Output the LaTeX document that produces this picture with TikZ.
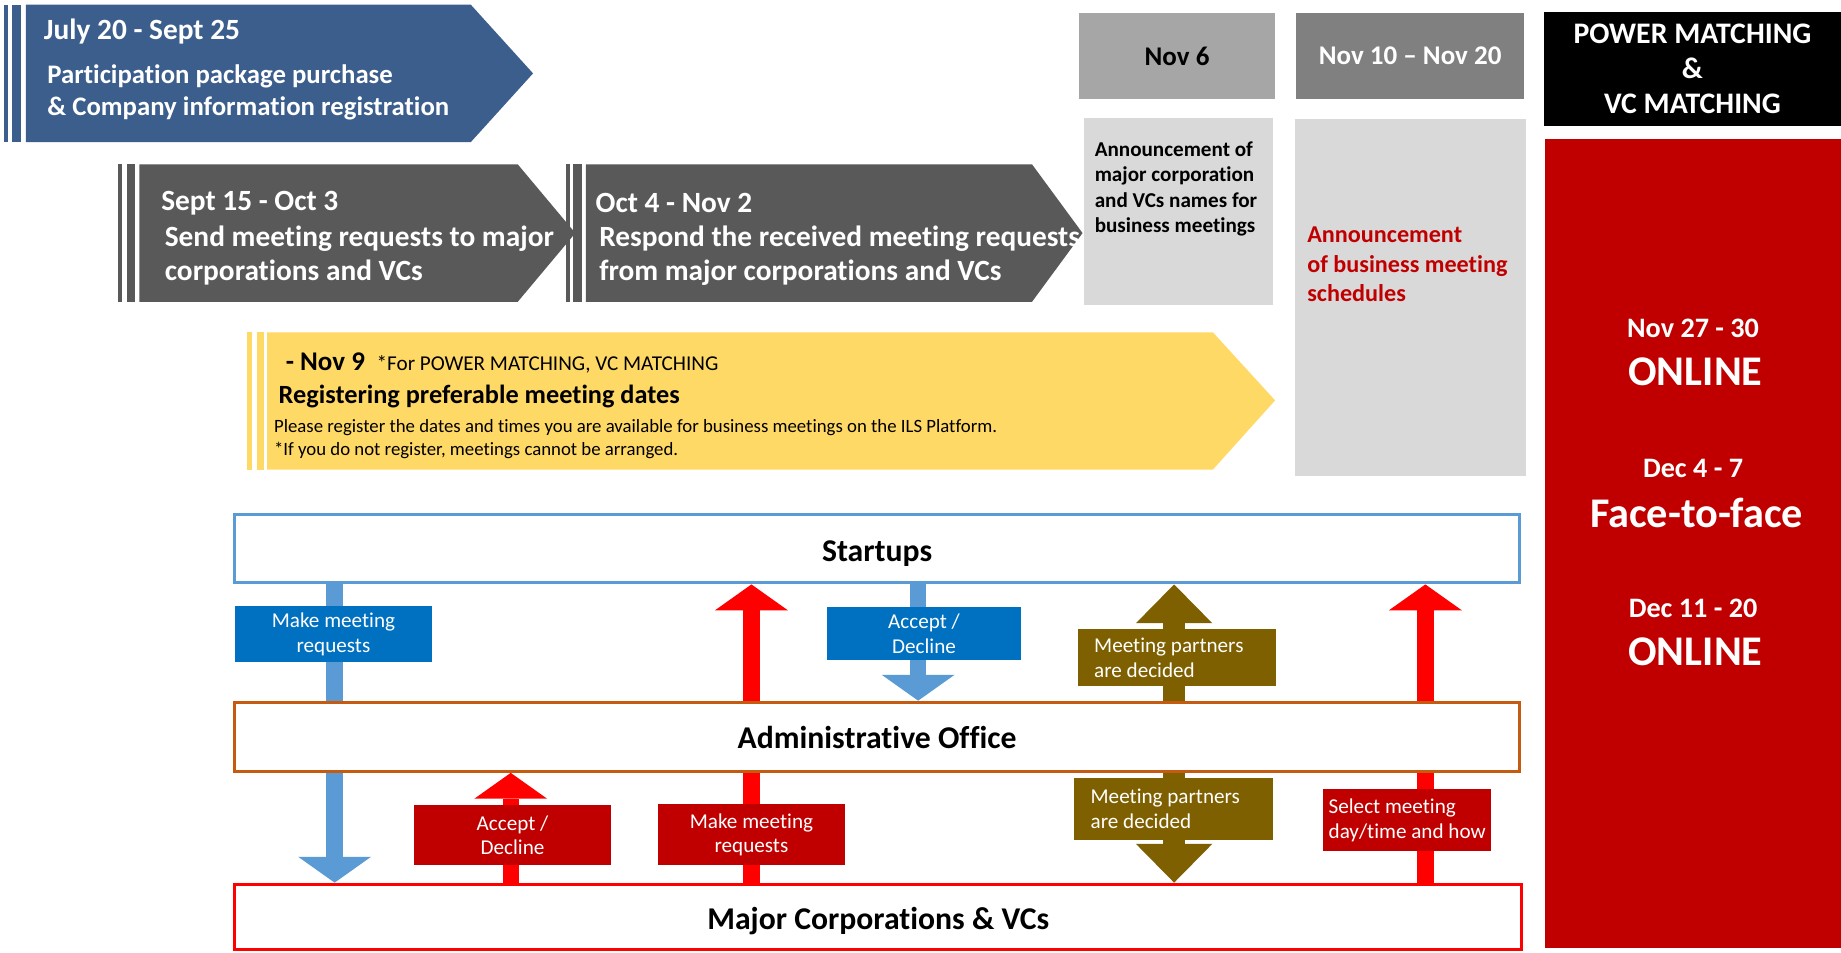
\documentclass[tikz,border=0pt]{standalone}
\usepackage{fontspec}
\setmainfont{Carlito}[Ligatures=NoCommon]
\usetikzlibrary{arrows.meta,positioning}

\definecolor{tlblue}{RGB}{59,94,140}
\definecolor{tlgrey}{RGB}{89,89,89}
\definecolor{tlyellow}{RGB}{255,217,102}
\definecolor{novlight}{RGB}{166,166,166}
\definecolor{novdark}{RGB}{128,128,128}
\definecolor{annbg}{RGB}{217,217,217}
\definecolor{darkred}{RGB}{192,0,0}
\definecolor{stblue}{RGB}{91,155,213}
\definecolor{admorange}{RGB}{197,90,17}
\definecolor{tagblue}{RGB}{0,112,192}
\definecolor{tagbrown}{RGB}{127,96,0}

\tikzset{
  party/.style={draw, line width=1.25pt, fill=white, inner sep=0pt, minimum width=547pt,
    text height=10.4pt, text depth=0pt, font=\bfseries\fontsize{13.5}{16}\selectfont},
  tag/.style={inner sep=0pt, text=white, align=center, font=\fontsize{9}{10.5}\selectfont},
  tagleft/.style={tag, align=left},
  flow/.style={line width=7pt, -{Triangle[length=11pt,width=31pt,line width=0pt]}},
  bigflow/.style={line width=9.5pt, -{Triangle[length=16.5pt,width=32.5pt,line width=0pt]}},
  shaft/.style={line width=7pt},
  when/.style={anchor=west, inner sep=0pt, text=white, font=\bfseries\fontsize{12.5}{14}\selectfont},
  what/.style={anchor=west, inner sep=0pt, text=white, align=left},
  datebox/.style={inner sep=0pt, minimum height=36.3pt, font=\bfseries\fontsize{11.5}{14}\selectfont},
  paneltext/.style={inner sep=0pt, text=white, font=\bfseries\fontsize{12}{14}\selectfont},
  panelbig/.style={inner sep=0pt, text=white, font=\bfseries\fontsize{18}{20}\selectfont}
}

\begin{document}
\begin{tikzpicture}[x=0.5pt, y=-0.5pt]
    \useasboundingbox (0,0) rectangle (1568,811);
    \fill[white] (0,0) rectangle (1568,811);

    % timeline arrows
    \fill[tlblue] (3.5,4) rectangle (7,121);
    \fill[tlblue] (10.5,4) rectangle (18,121);
    \fill[tlblue] (22,4) -- (401,4) -- (454,62.5) -- (401,121) -- (22,121) -- cycle;
    \node[when] (blueT) at (37,27) {July 20 - Sept 25};
    \node[what, font=\bfseries\fontsize{11.4}{13.5}\selectfont] (blueB) at (40,78.5)
        {Participation package purchase\\\& Company information registration};

    \fill[tlgrey] (481.7,140) rectangle (485.5,257);
    \fill[tlgrey] (488.2,140) rectangle (495.3,257);
    \fill[tlgrey] (499,140) -- (879,140) -- (922,198.5) -- (879,257) -- (499,257) -- cycle;
    \fill[tlgrey] (100.8,140) rectangle (104.2,257);
    \fill[tlgrey] (107.9,140) rectangle (115,257);
    \fill[tlgrey] (118.6,140) -- (441,140) -- (490,198.5) -- (441,257) -- (118.6,257) -- cycle;
    \node[when] (sendT) at (137,173) {Sept 15 - Oct 3};
    \node[what, font=\bfseries\fontsize{12.5}{14.5}\selectfont] (sendB) at (140,218)
        {Send meeting requests to major\\corporations and VCs};
    \node[when] (respT) at (507,173) {Oct 4 - Nov 2};
    \node[what, font=\bfseries\fontsize{12.5}{14.5}\selectfont] (respB) at (510,218)
        {Respond the received meeting requests\\from major corporations and VCs};

    \fill[tlyellow] (210,283) rectangle (215,400);
    \fill[tlyellow] (219,283) rectangle (225,400);
    \fill[tlyellow] (227.6,283) -- (1033,283) -- (1086,341) -- (1033,400) -- (227.6,400) -- cycle;
    \node[anchor=west, inner sep=0pt] (prefT) at (243,309.5)
        {\bfseries\fontsize{11.5}{14}\selectfont - Nov 9\hspace{5pt}\mdseries\fontsize{9}{11}\selectfont *For POWER MATCHING, VC MATCHING};
    \node[anchor=west, inner sep=0pt, font=\bfseries\fontsize{11.2}{13}\selectfont] (prefB) at (237,338)
        {Registering preferable meeting dates};
    \node[anchor=west, inner sep=0pt, align=left, font=\fontsize{8}{10}\selectfont] (prefN) at (233,374)
        {Please register the dates and times you are available for business meetings on the ILS Platform.\\*If you do not register, meetings cannot be arranged.};

    % announcement columns
    \node[datebox, fill=novlight, minimum width=83.5pt] (nov6) at (1002.5,47.7) {Nov 6};
    \node[datebox, fill=novdark, minimum width=97pt, text=white] (nov10) at (1201,47.7) {Nov 10 -- Nov 20};
    \node[fill=black, text=white, inner sep=0pt, minimum width=126.5pt, minimum height=48.4pt, align=center,
        font=\bfseries\fontsize{12.7}{15}\selectfont] (match) at (1441.5,58.6) {POWER MATCHING\\\&\\VC MATCHING};
    \node[fill=annbg, inner sep=0pt, minimum width=80.5pt, minimum height=79.5pt] (annA) at (1003.5,180) {};
    \node[anchor=north west, inner sep=0pt, align=left, font=\bfseries\fontsize{9}{10.9}\selectfont] (annAT) at (932,120)
        {Announcement of\\major corporation\\and VCs names for\\business meetings};
    \node[fill=annbg, inner sep=0pt, minimum width=98.5pt, minimum height=151.8pt] (annB) at (1201.5,253.2) {};
    \node[anchor=north west, inner sep=0pt, align=left, text=darkred, font=\bfseries\fontsize{10.3}{12.6}\selectfont] (annBT) at (1113,193)
        {Announcement\\of business meeting\\schedules};

    % event panel
    \node[fill=darkred, inner sep=0pt, minimum width=126pt, minimum height=344.5pt] (panel) at (1442,462.5) {};
    \node[paneltext] (onA) at (1442,279.5) {Nov 27 - 30};
    \node[panelbig] (onAT) at (1444,316.6) {ONLINE};
    \node[paneltext] (f2f) at (1442,399) {Dec 4 - 7};
    \node[panelbig] (f2fT) at (1445,437) {Face-to-face};
    \node[paneltext] (onB) at (1442,518) {Dec 11 - 20};
    \node[panelbig] (onBT) at (1444,555) {ONLINE};

    % parties
    \node[party, draw=stblue, minimum height=29pt] (st) at (747,467.5) {Startups};
    \node[party, draw=admorange, minimum height=29.5pt] (adm) at (747,627.5) {Administrative Office};
    \node[party, draw=red, minimum width=548pt, minimum height=28pt] (maj) at (748,781) {Major Corporations \& VCs};

    \coordinate (c1) at (285,0);
    \coordinate (c2) at (435,0);
    \coordinate (c3) at (640,0);
    \coordinate (c4) at (782,0);
    \coordinate (c5) at (1000,0);
    \coordinate (c6) at (1214,0);

    % flows
    \draw[shaft, stblue] (st.south -| c1) -- (adm.north -| c1);
    \draw[flow, stblue] (adm.south -| c1) -- (maj.north -| c1);
    \draw[flow, red] (maj.north -| c2) -- (adm.south -| c2);
    \draw[shaft, red] (maj.north -| c3) -- (adm.south -| c3);
    \draw[flow, red] (adm.north -| c3) -- (st.south -| c3);
    \draw[flow, stblue] (st.south -| c4) -- (adm.north -| c4);
    \draw[bigflow, tagbrown] (adm.north -| c5) -- (st.south -| c5);
    \draw[bigflow, tagbrown] (adm.south -| c5) -- (maj.north -| c5);
    \draw[shaft, red] (maj.north -| c6) -- (adm.south -| c6);
    \draw[flow, red] (adm.north -| c6) -- (st.south -| c6);

    % flow labels
    \node[tag, fill=tagblue, minimum width=84pt, minimum height=23.5pt] (reqS) at (284,540) {Make meeting\\requests};
    \node[tag, fill=tagblue, minimum width=83pt, minimum height=22.5pt] (ansS) at (787,539.5) {Accept /\\Decline};
    \node[tagleft, fill=tagbrown, minimum width=84.5pt, minimum height=24pt] (partS) at (1002.5,560) {Meeting partners\rule{7pt}{0pt}\\are decided};
    \node[tag, fill=darkred, minimum width=83.5pt, minimum height=25.5pt] (ansM) at (436.5,711.5) {Accept /\\Decline};
    \node[tag, fill=darkred, minimum width=80pt, minimum height=26pt] (reqM) at (640,711) {Make meeting\\requests};
    \node[tagleft, fill=tagbrown, minimum width=84.5pt, minimum height=26pt] (partM) at (999.5,689) {Meeting partners\rule{7pt}{0pt}\\are decided};
    \node[tagleft, fill=darkred, minimum width=71.5pt, minimum height=26.5pt] (selM) at (1198.5,698.5) {Select meeting\\day/time and how};
\end{tikzpicture}
\end{document}
